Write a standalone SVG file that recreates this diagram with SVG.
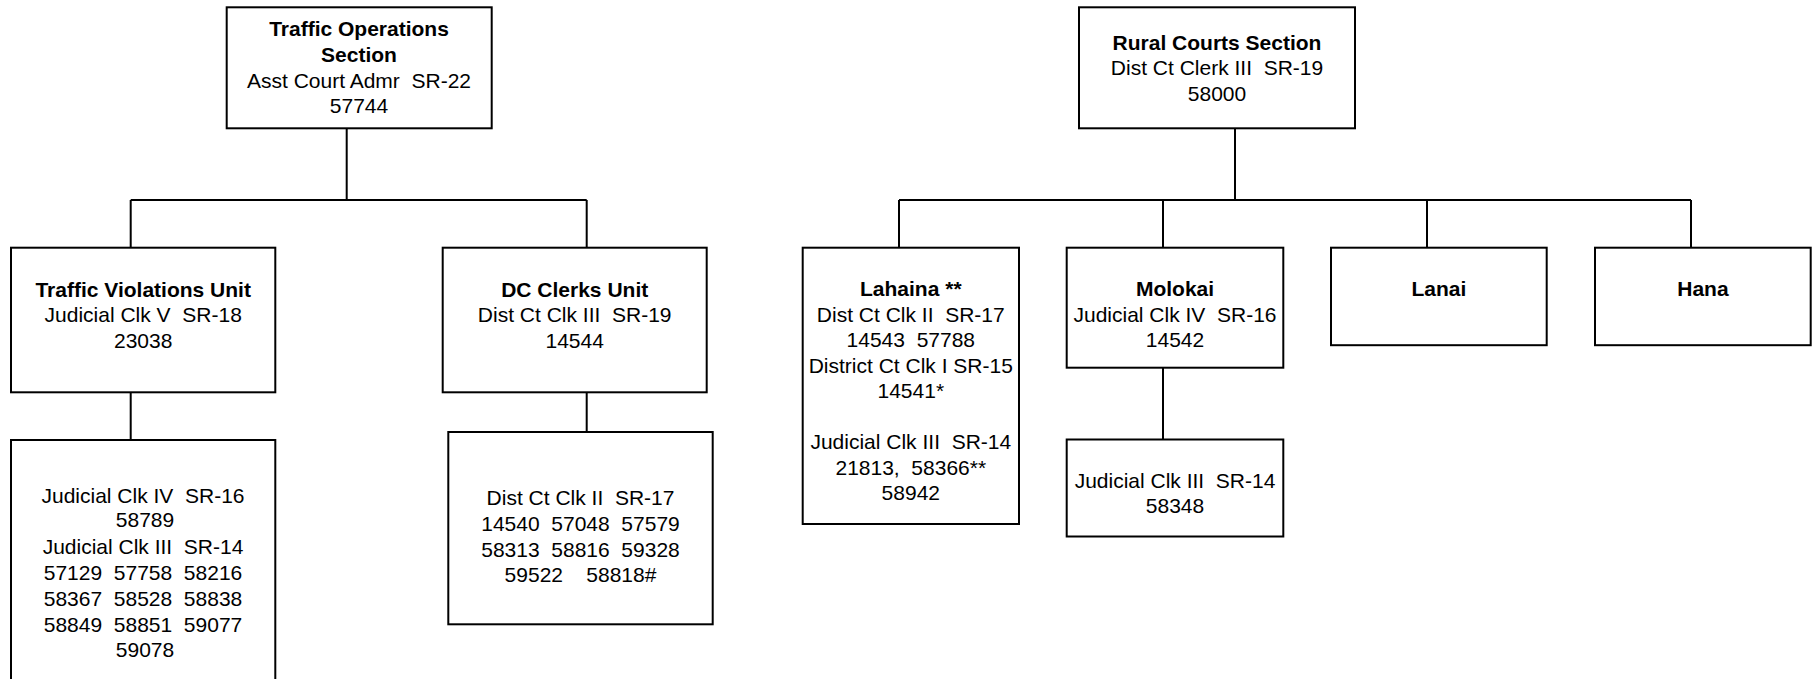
<svg xmlns="http://www.w3.org/2000/svg" width="1814" height="679" viewBox="0 0 1814 679">
<style>
.box{fill:#fff;stroke:#000;stroke-width:2}
.con{fill:none;stroke:#000;stroke-width:2}
text{font-family:"Liberation Sans",Arial,sans-serif;font-size:21px;fill:#000;text-anchor:middle;white-space:pre}
.b{font-weight:bold}
</style>
<rect width="1814" height="679" fill="#fff"/>
<g id="connectors">
<path class="con" d="M346.7,128.3V200M130.7,200H586.7M130.7,200V247.7M586.7,200V247.7M130.7,392.3V440M586.7,392.3V432"/>
<path class="con" d="M1235,128.3V200M899,200H1691M899,200V247.7M1163,200V247.7M1427,200V247.7M1691,200V247.7M1163,367.7V439.5"/>
</g>
<g id="traffic-ops">
<rect class="box" x="226.7" y="7.3" width="265" height="121"/>
<text class="b" x="359" y="36.3">Traffic Operations</text>
<text class="b" x="359" y="62">Section</text>
<text x="359" y="87.7">Asst Court Admr &#160;SR-22</text>
<text x="359" y="113.3">57744</text>
</g>
<g id="traffic-violations">
<rect class="box" x="11" y="247.7" width="264.3" height="144.6"/>
<text class="b" x="143.2" y="296.5">Traffic Violations Unit</text>
<text x="143.2" y="322">Judicial Clk V &#160;SR-18</text>
<text x="143.2" y="347.5">23038</text>
</g>
<g id="dc-clerks">
<rect class="box" x="442.7" y="247.7" width="264" height="144.6"/>
<text class="b" x="574.7" y="296.5">DC Clerks Unit</text>
<text x="574.7" y="322">Dist Ct Clk III &#160;SR-19</text>
<text x="574.7" y="347.5">14544</text>
</g>
<g id="traffic-violations-staff">
<rect class="box" x="11" y="440" width="264.3" height="270"/>
<text x="143" y="503">Judicial Clk IV &#160;SR-16</text>
<text x="145" y="527">58789</text>
<text x="143" y="553.5">Judicial Clk III &#160;SR-14</text>
<text x="143" y="579.5">57129 &#160;57758 &#160;58216</text>
<text x="143" y="605.5">58367 &#160;58528 &#160;58838</text>
<text x="143" y="631.5">58849 &#160;58851 &#160;59077</text>
<text x="145" y="657">59078</text>
</g>
<g id="dc-clerks-staff">
<rect class="box" x="448.3" y="432" width="264.4" height="192.3"/>
<text x="580.5" y="505">Dist Ct Clk II &#160;SR-17</text>
<text x="580.5" y="531">14540 &#160;57048 &#160;57579</text>
<text x="580.5" y="556.7">58313 &#160;58816 &#160;59328</text>
<text x="580.5" y="582">59522 &#160;&#160; 58818#</text>
</g>
<g id="rural-courts">
<rect class="box" x="1079" y="7.3" width="276" height="121"/>
<text class="b" x="1217" y="49.5">Rural Courts Section</text>
<text x="1217" y="75">Dist Ct Clerk III &#160;SR-19</text>
<text x="1217" y="100.5">58000</text>
</g>
<g id="lahaina">
<rect class="box" x="802.7" y="247.7" width="216.3" height="276.3"/>
<text class="b" x="910.8" y="296">Lahaina **</text>
<text x="910.8" y="321.5">Dist Ct Clk II &#160;SR-17</text>
<text x="910.8" y="347">14543 &#160;57788</text>
<text x="910.8" y="372.5">District Ct Clk I SR-15</text>
<text x="910.8" y="398">14541*</text>
<text x="910.8" y="449">Judicial Clk III &#160;SR-14</text>
<text x="910.8" y="474.5">21813, &#160;58366**</text>
<text x="910.8" y="500">58942</text>
</g>
<g id="molokai">
<rect class="box" x="1066.7" y="247.7" width="216.6" height="120"/>
<text class="b" x="1175" y="296">Molokai</text>
<text x="1175" y="321.5">Judicial Clk IV &#160;SR-16</text>
<text x="1175" y="347">14542</text>
</g>
<g id="molokai-staff">
<rect class="box" x="1066.7" y="439.5" width="216.6" height="97"/>
<text x="1175" y="487.7">Judicial Clk III &#160;SR-14</text>
<text x="1175" y="513.3">58348</text>
</g>
<g id="lanai">
<rect class="box" x="1331" y="247.7" width="215.7" height="97.5"/>
<text class="b" x="1438.9" y="296">Lanai</text>
</g>
<g id="hana">
<rect class="box" x="1595" y="247.7" width="215.7" height="97.5"/>
<text class="b" x="1702.9" y="296">Hana</text>
</g>
</svg>
